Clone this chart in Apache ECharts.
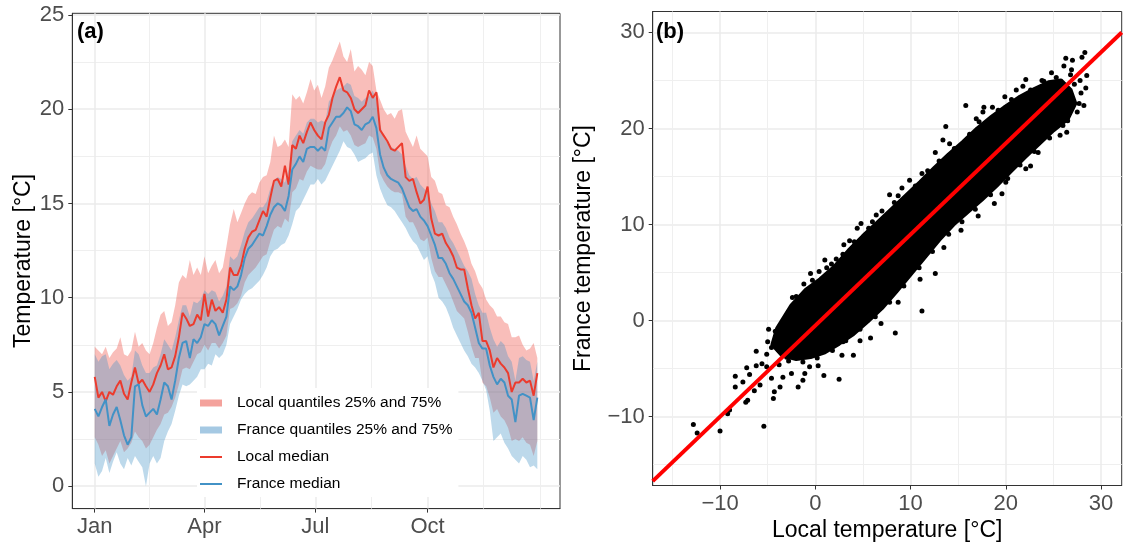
<!DOCTYPE html>
<html>
<head>
<meta charset="utf-8">
<title>Local vs France temperature</title>
<script src="https://cdn.jsdelivr.net/npm/echarts@6/dist/echarts.min.js"></script>
<style>
  html, body { margin: 0; padding: 0; background: #fff; }
  #chart { width: 1123px; height: 548px; }
</style>
</head>
<body>
<div id="chart"></div>
<script>
// ---- panel (a): day of year (sampled every 3 days) ----
var days = [
  0, 3, 6, 9, 12, 15, 18, 21, 24, 27,
  30, 33, 36, 39, 42, 45, 48, 51, 54, 57,
  60, 63, 66, 69, 72, 75, 78, 81, 84, 87,
  90, 93, 96, 99, 102, 105, 108, 111, 114, 117,
  120, 123, 126, 129, 132, 135, 138, 141, 144, 147,
  150, 153, 156, 159, 162, 165, 168, 171, 174, 177,
  180, 183, 186, 189, 192, 195, 198, 201, 204, 207,
  210, 213, 216, 219, 222, 225, 228, 231, 234, 237,
  240, 243, 246, 249, 252, 255, 258, 261, 264, 267,
  270, 273, 276, 279, 282, 285, 288, 291, 294, 297,
  300, 303, 306, 309, 312, 315, 318, 321, 324, 327,
  330, 333, 336, 339, 342, 345, 348, 351, 354, 357,
  360, 363
];
var localMedian = [
  5.8, 4.7, 5.0, 4.5, 5.0, 4.85, 5.3, 5.6, 4.9, 4.6,
  5.5, 6.3, 5.45, 5.65, 5.3, 5.0, 5.4, 6.0, 6.4, 7.0,
  6.2, 6.3, 6.9, 7.9, 9.2, 8.9, 8.5, 8.6, 9.1, 8.8,
  10.2, 9.0, 9.9, 9.3, 9.5, 9.2, 9.9, 11.6, 11.2, 11.2,
  11.7, 12.6, 13.2, 13.5, 13.6, 14.1, 14.6, 14.3, 15.3, 16.2,
  16.3, 15.9, 17.0, 16.0, 18.1, 17.9, 18.6, 18.2, 18.8, 19.3,
  18.9, 18.6, 18.4, 19.3, 19.7, 20.6, 21.2, 21.7, 21.0, 20.9,
  20.6, 20.0, 19.8, 20.0, 20.2, 21.0, 20.6, 20.9, 18.9, 18.6,
  18.3, 17.9, 17.8, 18.0, 18.2, 16.4, 16.2, 16.3, 15.6, 15.0,
  15.2, 15.9, 14.2, 13.4, 13.3, 13.4, 12.9, 12.6, 12.2, 11.6,
  11.5, 11.5, 10.5, 9.6, 8.9, 9.2, 7.7, 7.7, 7.2, 6.3,
  6.8, 6.5, 6.3, 6.0, 5.0, 5.5, 5.5, 5.7, 5.5, 5.6,
  4.8, 6.0
];
var franceMedian = [
  4.1, 3.7, 4.2, 4.6, 3.2, 3.8, 4.2, 3.5, 2.7, 2.2,
  2.6, 5.3, 5.4, 4.3, 3.7, 3.9, 4.1, 3.8, 4.6, 5.5,
  5.3, 4.6, 5.6, 6.8, 7.6, 7.7, 6.8, 7.8, 7.6, 7.9,
  8.6, 8.5, 8.8, 8.6, 8.0, 8.5, 9.0, 10.6, 10.4, 10.6,
  11.2, 12.1, 12.6, 12.8, 13.1, 13.4, 13.3, 13.8, 14.4, 14.8,
  15.0, 14.9, 14.6, 15.4, 16.8, 17.1, 17.5, 17.2, 17.9, 18.0,
  18.0, 17.8, 18.0, 17.8, 19.0, 19.3, 19.6, 19.6, 19.8, 20.1,
  19.9, 19.2, 19.1, 18.9, 19.2, 19.3, 19.6, 19.0, 17.6, 16.9,
  16.5, 16.3, 16.2, 16.1, 15.8, 15.3, 14.8, 14.6, 14.7, 14.3,
  14.1, 13.8, 13.3, 12.8, 12.1, 12.1, 11.8, 11.3, 11.0, 10.6,
  10.2, 9.8, 9.6, 9.2, 8.4, 7.6, 7.3, 7.3, 6.4, 5.8,
  5.4, 5.7, 5.5, 4.8, 4.6, 3.4, 4.8, 4.9, 4.8, 4.7,
  3.5, 4.7
];
var localUpper = [
  7.4, 7.2, 7.0, 7.4, 6.8, 7.1, 7.3, 7.9, 7.0, 6.9,
  7.2, 8.2, 7.4, 7.6, 7.2, 7.0, 7.6, 8.4, 9.1, 9.3,
  8.5, 8.7, 9.6, 10.8, 11.2, 11.0, 12.0, 11.2, 11.6, 11.2,
  12.2, 11.3, 11.7, 12.0, 11.3, 11.6, 12.7, 13.9, 14.7, 14.0,
  14.5, 15.0, 15.4, 15.6, 15.5, 16.1, 16.4, 16.5, 17.2, 18.6,
  18.0, 18.1, 18.4, 18.0, 20.8, 20.5, 20.7, 20.3, 20.9, 21.6,
  21.0, 21.3, 20.6, 21.2, 22.2, 22.6, 23.1, 23.6, 22.8, 22.5,
  23.2, 22.0, 22.3, 22.1, 21.8, 22.5, 22.3, 21.0, 20.5, 20.0,
  19.7, 19.8, 19.5, 19.9, 20.0, 18.8, 18.4, 18.0, 18.6, 17.9,
  17.7, 17.5, 16.4, 16.2, 15.6, 15.5, 14.9, 14.8, 14.3, 13.9,
  13.4, 13.0, 12.5, 11.8, 11.4, 10.8, 10.5, 9.9, 9.6, 9.4,
  9.0, 9.0, 8.7, 8.6, 7.9, 7.9, 8.0, 7.5, 7.2, 7.3,
  7.6, 6.8
];
var localLower = [
  2.6, 2.2, 1.6, 1.9, 1.2, 1.6, 2.0, 2.4, 1.8, 2.0,
  2.3, 2.9, 2.6, 2.4, 2.0, 2.2, 2.6, 3.0, 3.3, 3.8,
  3.9, 4.2, 4.7, 5.4, 6.2, 6.3, 6.2, 6.6, 7.0, 7.1,
  7.5, 7.2, 7.6, 7.6, 7.3, 7.6, 8.0, 9.4, 9.5, 9.7,
  10.1, 10.8, 11.2, 11.4, 11.6, 11.9, 12.2, 12.3, 13.0, 13.6,
  13.8, 13.7, 14.2, 14.0, 15.6, 15.8, 16.3, 16.2, 16.7, 17.0,
  16.9, 16.8, 16.8, 17.1, 17.8, 18.3, 18.6, 19.1, 18.8, 18.9,
  18.6, 18.1, 18.0, 18.1, 18.2, 18.6, 18.5, 17.9, 16.6, 16.2,
  15.9, 15.7, 15.6, 15.6, 15.5, 14.3, 14.0, 14.0, 13.6, 13.1,
  13.0, 13.2, 12.1, 11.4, 11.1, 11.1, 10.7, 10.3, 9.8, 9.3,
  9.1, 8.9, 8.2, 7.4, 6.8, 6.8, 5.5, 5.3, 4.7, 3.9,
  4.1, 3.7, 3.5, 3.1, 2.4, 2.5, 2.4, 2.6, 2.3, 2.2,
  1.6, 2.4
];
var franceUpper = [
  7.0, 6.6, 6.9, 7.0, 6.2, 6.5, 6.7, 6.4, 5.9, 5.6,
  5.8, 7.2, 7.0, 6.4, 6.0, 6.0, 6.3, 6.4, 7.0, 7.8,
  7.5, 7.2, 7.9, 8.8, 9.6, 9.6, 9.0, 9.8, 9.7, 9.9,
  10.4, 10.2, 10.4, 10.3, 9.8, 10.1, 10.6, 12.2, 12.0, 12.2,
  12.8, 13.5, 14.0, 14.2, 14.5, 14.8, 14.8, 15.1, 15.8, 16.2,
  16.4, 16.3, 16.1, 16.8, 18.3, 18.6, 18.9, 18.7, 19.3, 19.5,
  19.5, 19.3, 19.4, 19.3, 20.4, 20.7, 21.0, 21.1, 21.2, 21.4,
  21.3, 20.7, 20.6, 20.4, 20.6, 20.7, 21.0, 20.5, 19.2, 18.5,
  18.2, 18.0, 17.9, 17.8, 17.6, 17.0, 16.5, 16.3, 16.4, 16.0,
  15.8, 15.6, 15.0, 14.6, 14.0, 14.0, 13.7, 13.2, 12.9, 12.5,
  12.1, 11.7, 11.4, 11.0, 10.2, 9.6, 9.2, 9.2, 8.4, 7.8,
  7.4, 7.7, 7.5, 6.9, 6.6, 5.6, 6.8, 6.9, 6.7, 6.6,
  5.6, 6.6
];
var franceLower = [
  1.2, 0.5, 0.8, 1.5, 0.7, 1.3, 1.8, 1.2, 0.9, 1.5,
  1.1, 1.6, 1.3, 1.0, 0.0, 1.2, 1.6, 1.2, 1.5, 2.4,
  2.9, 3.3, 4.0, 4.8, 5.4, 5.3, 5.4, 5.6, 5.8, 6.2,
  6.2, 6.5, 6.4, 7.0, 6.8, 7.0, 7.5, 8.6, 9.0, 9.4,
  9.9, 10.2, 10.4, 10.5, 10.7, 10.9, 11.2, 11.6, 12.2, 12.5,
  12.6, 12.8, 12.9, 13.3, 13.9, 14.6, 14.8, 15.2, 15.6, 16.0,
  16.0, 16.3, 16.0, 16.2, 16.6, 17.0, 17.4, 17.8, 18.3, 18.0,
  17.9, 17.6, 17.2, 17.3, 17.4, 17.6, 17.7, 16.5, 15.8, 15.3,
  14.9, 14.8, 14.6, 14.3, 14.0, 13.7, 13.3, 13.0, 12.8, 12.4,
  12.0, 12.2, 11.3, 10.8, 10.0, 9.8, 9.5, 9.0, 8.4, 8.0,
  7.6, 7.2, 6.9, 6.5, 6.3, 6.0, 5.6, 5.1, 4.0, 2.4,
  2.6, 2.8, 2.3, 2.0, 1.6, 1.4, 1.2, 1.6, 1.4, 1.0,
  1.1, 0.9
];
var monthDays = [0, 90, 181, 273];
var monthLabels = ['Jan', 'Apr', 'Jul', 'Oct'];
var minorDays = [45, 135.5, 227, 319, 365];
var tempTicksA = [0, 5, 10, 15, 20, 25];

// ---- panel (b): local vs France temperature ----
var tempTicksB = [-10, 0, 10, 20, 30];
// outline of the saturated black cloud
var cloudCore = [
  [-4.5, -2.5], [-4.0, -0.8], [-2.5, 1.6], [-1.0, 3.2], [0.5, 4.3], [2.0, 5.6],
  [3.5, 7.3], [5.0, 8.8], [6.5, 10.2], [8.0, 11.6], [9.5, 13.0], [11.0, 14.4],
  [12.5, 15.9], [14.0, 17.3], [15.5, 18.6], [17.0, 20.0], [18.5, 21.2], [20.0, 22.3],
  [21.5, 23.3], [23.0, 24.1], [24.5, 24.8], [25.8, 25.0], [26.8, 24.0], [27.3, 22.6],
  [26.5, 21.0], [25.0, 19.8], [23.5, 18.4], [22.0, 17.0], [20.5, 15.5], [19.0, 14.0],
  [17.5, 12.6], [16.0, 11.3], [14.5, 10.0], [13.0, 8.4], [11.5, 6.6], [10.0, 4.8],
  [8.5, 3.0], [7.0, 1.3], [5.5, -0.1], [4.0, -1.4], [2.5, -2.4], [1.0, -3.3],
  [-0.5, -3.8], [-2.0, -4.0], [-3.5, -3.6]
];
// individual days visible outside the saturated cloud
var scatterDays = [
  [-12.8, -10.8], [-12.4, -11.7], [-10.0, -11.5], [-5.4, -11.0],
  [-9.2, -9.7], [-9.0, -9.3], [-8.4, -5.8], [-8.4, -6.9], [-7.6, -6.4], [-6.9, -5.6],
  [-7.1, -8.3], [-7.3, -8.5], [-6.4, -7.3], [-5.8, -6.7], [-5.6, -4.5], [-7.2, -4.9],
  [-6.2, -4.7], [-6.2, -3.2], [-5.1, -3.5], [-4.6, -6.0], [-4.4, -8.1], [-4.3, -7.4],
  [-3.7, -6.9], [-3.4, -5.9], [-2.5, -5.5], [-1.8, -6.9], [-1.3, -6.2], [-1.1, -5.5],
  [0.3, -4.7], [0.9, -5.7], [2.5, -6.1], [4.0, -3.6], [2.9, -2.2], [4.7, -2.1],
  [8.4, -1.3], [11.2, 1.0], [-4.1, -2.1], [-4.6, -2.8], [-5.1, -4.8], [-3.0, -3.8],
  [5.8, -1.8], [12.6, 4.9], [15.3, 9.4], [18.8, 12.2], [20.0, 14.4], [22.1, 15.8],
  [23.4, 17.5], [25.7, 19.3], [26.5, 20.8], [27.7, 22.6], [28.4, 24.2], [28.5, 25.5],
  [28.3, 27.9], [28.0, 27.4], [27.0, 27.1], [26.3, 27.3], [26.1, 26.5], [25.3, 25.3],
  [23.8, 25.0], [22.1, 25.1], [21.1, 24.0], [20.0, 22.2], [18.6, 22.2], [17.7, 22.2],
  [17.6, 21.7], [15.8, 22.4], [13.7, 20.2], [13.4, 18.8], [12.6, 17.5], [9.9, 14.6],
  [7.8, 13.1], [8.7, 13.0], [4.8, 10.1], [6.0, 10.3], [3.6, 8.3], [2.9, 6.9],
  [1.7, 5.9], [0.4, 5.1], [-0.3, 4.2], [-2.0, 2.5], [-3.1, 0.4], [-4.2, -1.1], [-3.4, -0.6],
  [1.2, 5.5], [2.2, 6.4], [4.1, 8.2], [5.6, 9.6], [7.0, 11.4], [8.3, 12.3],
  [10.5, 14.0], [11.8, 15.6], [13.0, 16.6], [14.6, 17.9], [16.2, 19.4], [17.2, 20.7],
  [19.2, 21.9], [20.6, 23.0], [22.6, 24.0], [24.0, 24.9], [26.8, 25.6], [27.2, 24.6],
  [27.9, 23.7], [27.5, 21.7], [26.0, 20.3], [24.6, 19.0], [23.0, 17.6], [21.5, 16.2],
  [20.2, 14.8], [18.4, 13.1], [16.8, 11.6], [15.4, 10.3], [14.0, 9.0], [12.3, 7.2],
  [10.9, 5.5], [9.3, 3.6], [7.8, 1.9], [6.3, 0.4], [4.7, -0.9], [3.2, -2.1],
  [1.8, -3.1], [0.2, -3.9], [-1.3, -4.3], [-2.8, -4.2], [-3.9, -3.0],
  [-0.5, 4.9], [1.0, 6.3], [3.0, 7.9], [4.4, 9.6], [6.4, 11.0], [9.1, 13.8],
  [11.2, 15.3], [14.1, 18.4], [16.9, 21.0], [19.9, 23.3], [21.8, 24.4], [24.8, 25.8],
  [26.9, 26.1], [27.8, 25.0], [28.2, 22.4], [26.4, 19.6], [22.6, 16.1], [19.6, 13.2],
  [17.1, 10.9], [13.5, 7.6], [11.0, 4.3], [8.7, 1.9], [6.9, -0.3], [2.8, -3.6],
  [-0.6, -4.8], [-3.8, -4.6], [-5.0, -2.2], [-4.9, -0.9], [-2.4, 2.4], [-1.2, 3.8]
];
// fitted line, drawn across the whole panel
var fitLine = [[-17.07, -16.7], [32.17, 30.0]];

var FONT = '"Liberation Sans", Arial, sans-serif';
var RED = '#EC3B2D';
var BLUE = '#4292C6';

function pairs(xs, ys) {
  return xs.map(function (x, i) { return [x, ys[i]]; });
}

function bandItem(upper, lower, fill) {
  return function (params, api) {
    var pts = [];
    for (var i = 0; i < days.length; i++) pts.push(api.coord([days[i], upper[i]]));
    for (var j = days.length - 1; j >= 0; j--) pts.push(api.coord([days[j], lower[j]]));
    return { type: 'polygon', shape: { points: pts }, style: { fill: fill } };
  };
}

function minusSign(v) {
  return String(v).replace('-', '\u2212');
}

var chart = echarts.init(document.getElementById('chart'));

var frameLine = { show: true, onZero: false, lineStyle: { color: '#333', width: 1 } };
var tickStyle = { show: true, length: 4, lineStyle: { color: '#333', width: 1 } };
var labelStyle = { fontSize: 22, color: '#4D4D4D', fontFamily: FONT };
var nameStyle = { fontSize: 23, color: '#000', fontFamily: FONT };
var majorGrid = { show: true, lineStyle: { color: '#EBEBEB', width: 1.5 } };
var minorGrid = { show: true, lineStyle: { color: '#EFEFEF', width: 1 } };

var option = {
  animation: false,
  backgroundColor: '#fff',
  grid: [
    { left: 72.3, top: 13.3, width: 487.7, height: 495.3, show: true, borderColor: '#333', borderWidth: 1 },
    { left: 652.7, top: 11.5, width: 469, height: 474, show: true, borderColor: '#333', borderWidth: 1 }
  ],
  xAxis: [
    {
      gridIndex: 0, type: 'value', min: -18.4, max: 381.6,
      axisLine: frameLine,
      axisTick: Object.assign({ customValues: monthDays }, tickStyle),
      axisLabel: Object.assign({
        customValues: monthDays, margin: 7,
        formatter: function (v) { return monthLabels[monthDays.indexOf(v)] || ''; }
      }, labelStyle),
      splitLine: { show: false }
    },
    {
      gridIndex: 1, type: 'value', min: -17.07, max: 32.17,
      axisLine: frameLine,
      axisTick: Object.assign({ customValues: tempTicksB }, tickStyle),
      axisLabel: Object.assign({ customValues: tempTicksB, margin: 7, formatter: minusSign }, labelStyle),
      splitLine: majorGrid,
      minorTick: { show: false, splitNumber: 2 },
      minorSplitLine: minorGrid,
      name: 'Local temperature [\u00B0C]', nameLocation: 'middle', nameGap: 32,
      nameTextStyle: nameStyle
    }
  ],
  yAxis: [
    {
      gridIndex: 0, type: 'value', min: -1.19, max: 25.09,
      axisLine: frameLine,
      axisTick: Object.assign({ customValues: tempTicksA }, tickStyle),
      axisLabel: Object.assign({ customValues: tempTicksA, margin: 8 }, labelStyle),
      splitLine: majorGrid,
      minorTick: { show: false, splitNumber: 2 },
      minorSplitLine: minorGrid,
      name: 'Temperature [\u00B0C]', nameLocation: 'middle', nameGap: 37,
      nameTextStyle: nameStyle
    },
    {
      gridIndex: 1, type: 'value', min: -17.16, max: 32.17,
      axisLine: frameLine,
      axisTick: Object.assign({ customValues: tempTicksB }, tickStyle),
      axisLabel: Object.assign({ customValues: tempTicksB, margin: 8, formatter: minusSign }, labelStyle),
      splitLine: majorGrid,
      minorTick: { show: false, splitNumber: 2 },
      minorSplitLine: minorGrid,
      name: 'France temperature [\u00B0C]', nameLocation: 'middle', nameGap: 58,
      nameTextStyle: nameStyle
    }
  ],
  legend: {
    orient: 'vertical', left: 197, top: 388,
    padding: [6, 6, 4, 3], backgroundColor: '#fff',
    itemWidth: 22, itemHeight: 7, itemGap: 9,
    selectedMode: false, symbolKeepAspect: true,
    textStyle: { fontSize: 15.5, color: '#000', fontFamily: FONT, lineHeight: 18, padding: [0, 0, 0, 10] },
    data: [
      { name: 'Local quantiles 25% and 75%', icon: 'rect', itemStyle: { color: '#F4A29C' } },
      { name: 'France quantiles 25% and 75%', icon: 'rect', itemStyle: { color: '#A5C9E3' } },
      { name: 'Local median', icon: 'path://M0,0H22V2H0Z', itemStyle: { color: RED } },
      { name: 'France median', icon: 'path://M0,0H22V2H0Z', itemStyle: { color: BLUE } }
    ]
  },
  graphic: [
    { type: 'text', left: 77, top: 21, z: 10, style: { text: '(a)', font: 'bold 22px ' + FONT, fill: '#000' } },
    { type: 'text', left: 656, top: 21, z: 10, style: { text: '(b)', font: 'bold 22px ' + FONT, fill: '#000' } }
  ],
  series: [
    {
      // vertical grid lines of the date axis
      type: 'line', xAxisIndex: 0, yAxisIndex: 0, data: [], z: 1, silent: true,
      markLine: {
        silent: true, z: 1, symbol: ['none', 'none'], label: { show: false }, animation: false,
        data: monthDays.map(function (d) {
          return { xAxis: d, lineStyle: { color: '#EBEBEB', width: 1.5, type: 'solid' } };
        }).concat(minorDays.map(function (d) {
          return { xAxis: d, lineStyle: { color: '#EFEFEF', width: 1, type: 'solid' } };
        }))
      }
    },
    {
      name: 'Local quantiles 25% and 75%', type: 'custom', xAxisIndex: 0, yAxisIndex: 0,
      data: [[0, 0]], z: 2, silent: true, clip: true,
      itemStyle: { color: '#F4A29C' },
      renderItem: bandItem(localUpper, localLower, 'rgba(236, 59, 45, 0.33)')
    },
    {
      name: 'France quantiles 25% and 75%', type: 'custom', xAxisIndex: 0, yAxisIndex: 0,
      data: [[0, 0]], z: 2, silent: true, clip: true,
      itemStyle: { color: '#A5C9E3' },
      renderItem: bandItem(franceUpper, franceLower, 'rgba(66, 146, 198, 0.35)')
    },
    {
      name: 'Local median', type: 'line', xAxisIndex: 0, yAxisIndex: 0, z: 3,
      data: pairs(days, localMedian), symbol: 'none',
      lineStyle: { color: RED, width: 2 }, itemStyle: { color: RED }
    },
    {
      name: 'France median', type: 'line', xAxisIndex: 0, yAxisIndex: 0, z: 3,
      data: pairs(days, franceMedian), symbol: 'none',
      lineStyle: { color: BLUE, width: 2 }, itemStyle: { color: BLUE }
    },
    {
      type: 'custom', xAxisIndex: 1, yAxisIndex: 1, data: [[0, 0]], z: 2, silent: true, clip: true,
      renderItem: function (params, api) {
        var pts = cloudCore.map(function (p) { return api.coord(p); });
        return {
          type: 'polygon', shape: { points: pts },
          style: { fill: '#000', stroke: '#000', lineWidth: 4, lineJoin: 'round' }
        };
      }
    },
    {
      type: 'scatter', xAxisIndex: 1, yAxisIndex: 1, z: 2, silent: true,
      data: scatterDays, symbolSize: 5, itemStyle: { color: '#000', opacity: 1 }
    },
    {
      type: 'line', xAxisIndex: 1, yAxisIndex: 1, z: 4, silent: true,
      data: fitLine, symbol: 'none',
      lineStyle: { color: '#FF0000', width: 4 }
    }
  ]
};

chart.setOption(option);
</script>
</body>
</html>
